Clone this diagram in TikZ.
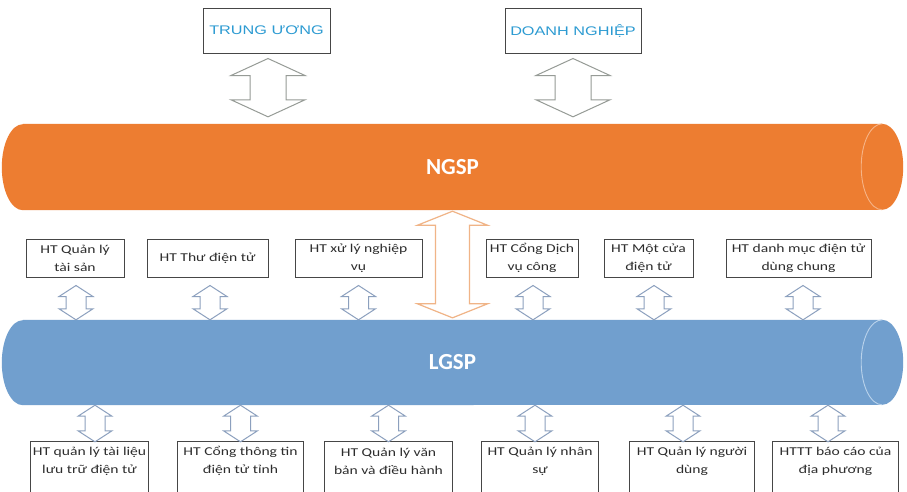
\documentclass[tikz,border=0pt]{standalone}
\usepackage{fontspec}
\setmainfont{Carlito}
\newfontfamily\boxfont[FakeStretch=1.3]{Carlito}
\newfontfamily\topfont[FakeStretch=1.3]{Liberation Sans}
\newfontfamily\barfont{Carlito}
\usetikzlibrary{calc}
\definecolor{ngspc}{RGB}{237,125,49}
\definecolor{ngspline}{RGB}{246,180,135}
\definecolor{lgspc}{RGB}{113,159,206}
\definecolor{lgspline}{RGB}{185,210,235}
\definecolor{boxline}{RGB}{70,70,70}
\definecolor{boxtext}{RGB}{45,45,45}
\definecolor{toptext}{RGB}{45,155,210}
\definecolor{smallarr}{RGB}{140,160,190}
\definecolor{toparr}{RGB}{150,155,150}
\definecolor{midarr}{RGB}{240,180,135}
% double block arrow: style, top point, bottom point, head half width, shaft half width, head length
\newcommand\darr[6]{\draw[#1] let \p1=#2, \p2=#3 in
 (\x1,\y1) -- (\x1+#4,\y1-#6) -- (\x1+#5,\y1-#6) -- (\x1+#5,\y2+#6) -- (\x1+#4,\y2+#6)
 -- (\x1,\y2) -- (\x1-#4,\y2+#6) -- (\x1-#5,\y2+#6) -- (\x1-#5,\y1-#6) -- (\x1-#4,\y1-#6) -- cycle;}
% horizontal cylinder drawn on an invisible node: name, fill, rim line colour, half height
\newcommand\hcyl[4]{%
 \fill[#2] ([xshift=21pt]#1.north west) -- ([xshift=-21pt]#1.north east)
   arc[start angle=90,end angle=-90,x radius=21pt,y radius=#4]
   -- ([xshift=21pt]#1.south west)
   arc[start angle=270,end angle=90,x radius=21pt,y radius=#4] -- cycle;
 \draw[#3,line width=0.9pt] ([xshift=-21pt]#1.north east)
   arc[start angle=90,end angle=270,x radius=21pt,y radius=#4];}
\begin{document}
\begin{tikzpicture}[x=1pt,y=-1pt,
  bar/.style={minimum width=901pt,minimum height=86pt,inner sep=0pt,
    font=\barfont\bfseries\fontsize{23}{26}\selectfont,text=white},
  topbox/.style={draw=boxline,line width=1pt,fill=white,minimum height=45pt,inner sep=0pt,
    font=\topfont\fontsize{12.5}{15}\selectfont,text=toptext},
  midbox/.style={draw=boxline,line width=1pt,fill=white,minimum height=38pt,inner sep=0pt,
    align=center,font=\boxfont\fontsize{12}{18}\selectfont,text=boxtext},
  lowbox/.style={minimum height=38pt,inner sep=0pt,
    align=center,font=\boxfont\fontsize{12}{18}\selectfont,text=boxtext},
  lowframe/.style={draw=boxline,line width=1pt},
  smallarrow/.style={draw=smallarr,line width=1pt,fill=white,line join=miter},
  toparrow/.style={draw=toparr,line width=1pt,fill=white},
  midarrow/.style={draw=midarr,line width=1.2pt,fill=white}]
\useasboundingbox (0,0) rectangle (907,491);
\clip (0,0) rectangle (907,491);
\fill[white] (0,0) rectangle (907,491);

% bars
\node[bar] (ngsp) at (452.5,167) {};
\hcyl{ngsp}{ngspc}{ngspline}{43pt}
\node[bar] at (ngsp.center) {NGSP};
\node[bar,minimum height=85pt] (lgsp) at (452.5,362.5) {};
\hcyl{lgsp}{lgspc}{lgspline}{42.5pt}
\node[bar] at (lgsp.center) {LGSP};

% top boxes
\node[topbox,minimum width=127pt] (tw) at (266.5,30.5) {TRUNG ƯƠNG};
\node[topbox,minimum width=136pt] (dn) at (573,30.5) {DOANH NGHIỆP};

% middle boxes
\node[midbox,minimum width=98pt]  (m1) at (75,258)    {HT Quản lý\\tài sản};
\node[midbox,minimum width=121pt] (m2) at (207.5,258) {HT Thư điện tử};
\node[midbox,minimum width=127pt] (m3) at (358.5,258) {HT xử lý nghiệp\\vụ};
\node[midbox,minimum width=92pt]  (m4) at (532,258)   {HT Cổng Dịch\\vụ công};
\node[midbox,minimum width=89pt]  (m5) at (648.5,258) {HT Một cửa\\điện tử};
\node[midbox,minimum width=145pt] (m6) at (798.5,258) {HT danh mục điện tử\\dùng chung};

% bottom boxes (cut by the lower edge of the picture)
\node[lowbox,minimum width=117pt] (b1) at (89.5,461)  {HT quản lý tài liệu\\lưu trữ điện tử};
\node[lowbox,minimum width=125pt] (b2) at (240.5,461) {HT Cổng thông tin\\điện tử tỉnh};
\node[lowbox,minimum width=127pt] (b3) at (388.5,461) {HT Quản lý văn\\bản và điều hành};
\node[lowbox,minimum width=116pt] (b4) at (540,461)   {HT Quản lý nhân\\sự};
\node[lowbox,minimum width=124pt] (b5) at (692,461)   {HT Quản lý người\\dùng};
\node[lowbox,minimum width=125pt] (b6) at (835.5,461) {HTTT báo cáo của\\địa phương};
\foreach \b in {b1,b2,b3,b4,b5,b6}
  \draw[lowframe] ([yshift=-30pt]\b.south west) -- (\b.north west) -- (\b.north east) -- ([yshift=-30pt]\b.south east);

% top arrows
\darr{toparrow}{([xshift=1.5pt,yshift=-5pt]tw.south)}{([xshift=1.5pt,yshift=7pt]ngsp.north -| tw.south)}{37}{18}{17}
\darr{toparrow}{([yshift=-5pt]dn.south)}{([yshift=7pt]ngsp.north -| dn.south)}{37}{18}{17}

% middle big arrow
\darr{midarrow}{([yshift=-1pt]ngsp.south)}{([yshift=2pt]lgsp.north)}{35}{17}{14}

% middle small arrows
\darr{smallarrow}{([xshift=1pt,yshift=-8pt]m1.south)}{([xshift=1pt]lgsp.north -| m1.south)}{17}{10}{11}
\darr{smallarrow}{([xshift=2.5pt,yshift=-8pt]m2.south)}{([xshift=2.5pt]lgsp.north -| m2.south)}{17}{10}{11}
\darr{smallarrow}{([yshift=-8pt]m3.south)}{(lgsp.north -| m3.south)}{17}{10}{11}
\darr{smallarrow}{([xshift=1pt,yshift=-8pt]m4.south)}{([xshift=1pt]lgsp.north -| m4.south)}{17}{10}{11}
\darr{smallarrow}{([xshift=5.5pt,yshift=-8pt]m5.south)}{([xshift=5.5pt]lgsp.north -| m5.south)}{17}{10}{11}
\darr{smallarrow}{([xshift=4.5pt,yshift=-8pt]m6.south)}{([xshift=4.5pt]lgsp.north -| m6.south)}{17}{10}{11}

% bottom small arrows
\darr{smallarrow}{([xshift=5.5pt]lgsp.south -| b1.north)}{([xshift=5.5pt]b1.north)}{17}{10}{11}
\darr{smallarrow}{(lgsp.south -| b2.north)}{(b2.north)}{17}{10}{11}
\darr{smallarrow}{(lgsp.south -| b3.north)}{(b3.north)}{17}{10}{11}
\darr{smallarrow}{([xshift=-5pt]lgsp.south -| b4.north)}{([xshift=-5pt]b4.north)}{17}{10}{11}
\darr{smallarrow}{([xshift=-9pt]lgsp.south -| b5.north)}{([xshift=-9pt]b5.north)}{17}{10}{11}
\darr{smallarrow}{([xshift=-7.5pt]lgsp.south -| b6.north)}{([xshift=-7.5pt]b6.north)}{17}{10}{11}
\end{tikzpicture}
\end{document}
